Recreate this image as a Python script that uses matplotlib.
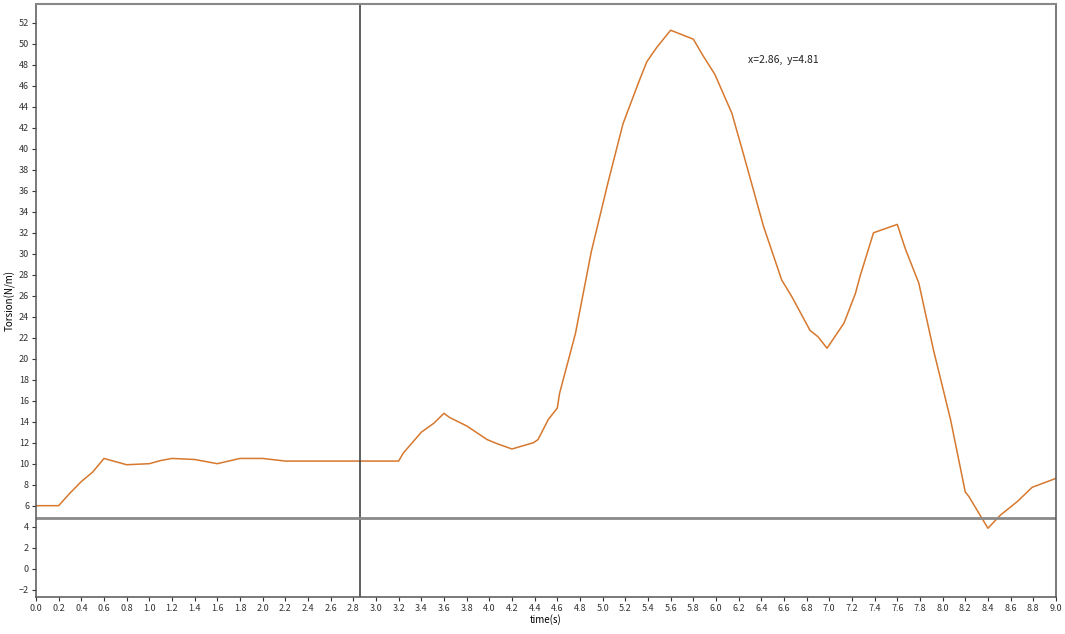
import matplotlib.pyplot as plt
import numpy as np

plt.rcParams['font.family'] = ['Noto Sans CJK JP', 'DejaVu Sans']

# 读取曲线上的折点 (time, torsion)
time = [0.0, 0.2, 0.3, 0.4, 0.5, 0.6, 0.8, 1.0, 1.1, 1.2, 1.4, 1.6, 1.8, 2.0,
        2.2, 2.4, 2.6, 2.8, 3.0, 3.2, 3.24, 3.4, 3.51, 3.6, 3.65, 3.8, 3.98,
        4.07, 4.2, 4.39, 4.43, 4.52, 4.6, 4.62, 4.76, 4.9, 5.05, 5.18,
        5.32, 5.39, 5.48, 5.6, 5.8, 5.89, 5.99, 6.14, 6.24, 6.42, 6.58, 6.67,
        6.83, 6.9, 6.98, 7.13, 7.23, 7.27, 7.39, 7.6, 7.67, 7.79, 7.92, 8.07,
        8.2, 8.23, 8.4, 8.51, 8.66, 8.79, 9.0]
torsion = [6.0, 6.0, 7.2, 8.3, 9.2, 10.5, 9.9, 10.0, 10.3, 10.5, 10.4, 10.0,
           10.5, 10.5, 10.25, 10.25, 10.25, 10.25, 10.25, 10.25, 11.0, 13.0,
           13.85, 14.8, 14.4, 13.6, 12.3, 11.9, 11.4, 12.0, 12.3, 14.2, 15.3,
           16.7, 22.4, 30.2, 36.9, 42.4, 46.4, 48.3, 49.7, 51.3, 50.45,
           48.8, 47.1, 43.4, 39.6, 32.6, 27.5, 25.9, 22.7, 22.1, 21.0, 23.4,
           26.2, 27.8, 32.0, 32.8, 30.5, 27.2, 20.8, 14.2, 7.3, 6.9, 3.85, 5.1,
           6.4, 7.75, 8.6]

# 十字光标位置
cursor_x = 2.86
cursor_y = 4.81

x_ticks = np.round(np.arange(0, 9.01, 0.2), 1)
y_ticks = np.arange(-2, 53, 2)

fig = plt.figure(figsize=(10.65, 6.34), dpi=100)
ax = fig.add_axes([0.0338, 0.0584, 0.9577, 0.9353])

ax.plot(time, torsion, color='#d6782e', linewidth=1.1)

# 十字线
ax.axvline(cursor_x, color='#444444', linewidth=1.2)
ax.axhline(cursor_y, color='#8a8a8a', linewidth=2.0)
ax.text(6.28, 48.5, f'x={cursor_x:.2f},  y={cursor_y:.2f}', fontsize=7.5,
        ha='left', va='center', color='#222222')

ax.set_xlim(0, 9.0)
ax.set_ylim(-2.7, 53.8)
ax.set_xticks(x_ticks)
ax.set_xticklabels([f'{t:.1f}' for t in x_ticks])
ax.set_yticks(y_ticks)
ax.tick_params(labelsize=6.5, length=3, width=0.8, pad=2, colors='#333333')

ax.spines['top'].set_color('#888888')
ax.spines['top'].set_linewidth(1.5)
for side in ['left', 'bottom', 'right']:
    ax.spines[side].set_color('#555555')
    ax.spines[side].set_linewidth(1.1)

ax.set_xlabel('time(s)', fontsize=7, labelpad=1)
ax.set_ylabel('Torsion(N/m)', fontsize=7, labelpad=2)

fig.savefig('out.png', dpi=100)
